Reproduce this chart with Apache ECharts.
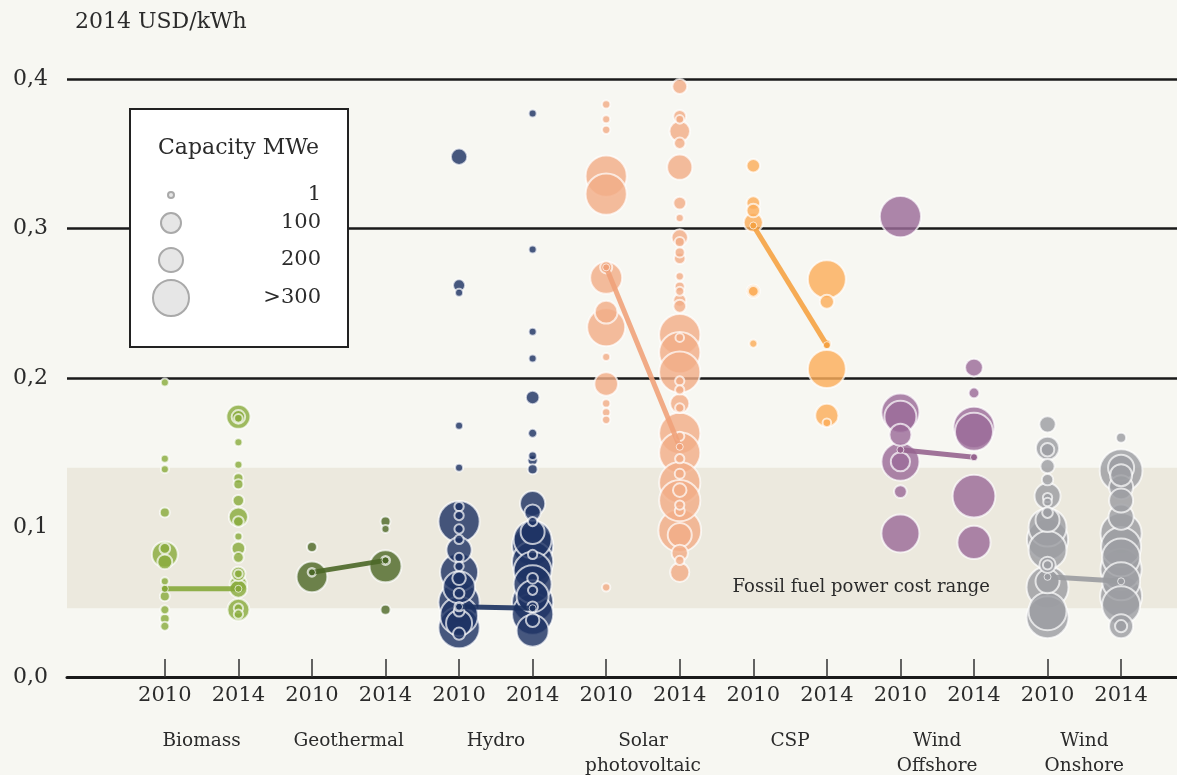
<!DOCTYPE html>
<html>
<head>
<meta charset="utf-8">
<title>LCOE 2010 / 2014</title>
<script src="https://cdn.jsdelivr.net/npm/echarts@6/dist/echarts.min.js"></script>
<style>
  html, body { margin: 0; padding: 0; background: #f7f7f2; }
  #chart { width: 1177px; height: 775px; }
</style>
</head>
<body>
<div id="chart"></div>
<script>
// categories
const techs = ['Biomass', 'Geothermal', 'Hydro', 'Solar\nphotovoltaic', 'CSP', 'Wind\nOffshore', 'Wind\nOnshore'];
const years = ['2010', '2014'];
const yTicks = [0, 0.1, 0.2, 0.3, 0.4];
const legendCaps = [1, 100, 200, 300];
const legendLabels = ['1', '100', '200', '>300'];
const fossilRange = [0.046, 0.14];

// projects: [cost USD/kWh, capacity MWe]
const biomass2010 = [[0.197, 1], [0.146, 1], [0.139, 1], [0.110, 15], [0.086, 20], [0.082, 200], [0.077, 50],
  [0.064, 1], [0.054, 15], [0.045, 8], [0.039, 12], [0.034, 8]];
const biomass2014 = [[0.174, 150], [0.174, 40], [0.173, 5], [0.157, 1], [0.142, 1], [0.133, 15], [0.129, 15],
  [0.118, 25], [0.107, 80], [0.104, 20], [0.094, 1], [0.086, 40], [0.080, 20], [0.069, 45], [0.069, 5],
  [0.062, 70], [0.059, 70], [0.045, 100], [0.046, 10], [0.042, 10]];
const geothermal2010 = [[0.087, 15], [0.067, 240], [0.070, 5]];
const geothermal2014 = [[0.104, 15], [0.099, 1], [0.074, 250], [0.078, 8], [0.045, 15]];
const hydro2010 = [[0.348, 60], [0.262, 30], [0.257, 1], [0.168, 1], [0.140, 1],
  [0.114, 10], [0.108, 10], [0.104, 380], [0.099, 10], [0.092, 10], [0.085, 180], [0.080, 10],
  [0.074, 10], [0.070, 300], [0.066, 40], [0.060, 250], [0.056, 20], [0.050, 380], [0.047, 10],
  [0.044, 20], [0.041, 300], [0.036, 200], [0.033, 380], [0.029, 30]];
const hydro2014 = [[0.377, 1], [0.286, 1], [0.231, 1], [0.213, 1], [0.187, 40], [0.163, 8], [0.148, 5],
  [0.145, 15], [0.139, 15], [0.116, 180], [0.110, 60], [0.104, 10], [0.097, 150], [0.092, 300],
  [0.088, 380], [0.082, 10], [0.077, 380], [0.071, 300], [0.066, 20], [0.062, 300], [0.058, 10],
  [0.054, 250], [0.050, 380], [0.047, 20], [0.042, 380], [0.038, 40], [0.031, 250]];
const solar2010 = [[0.383, 3], [0.373, 1], [0.366, 3], [0.335, 380], [0.323, 380], [0.267, 250], [0.274, 30],
  [0.244, 120], [0.234, 300], [0.214, 1], [0.196, 140], [0.183, 3], [0.177, 3], [0.172, 3], [0.060, 3]];
const solar2014 = [[0.395, 50], [0.375, 35], [0.373, 5], [0.365, 90], [0.357, 25], [0.341, 180], [0.317, 35],
  [0.307, 1], [0.294, 60], [0.291, 15], [0.284, 15], [0.280, 25], [0.268, 3], [0.261, 15], [0.258, 8],
  [0.252, 35], [0.248, 35], [0.229, 380], [0.227, 5], [0.217, 380], [0.204, 380], [0.198, 10],
  [0.192, 10], [0.183, 80], [0.180, 10], [0.163, 380], [0.161, 10], [0.150, 380], [0.146, 10],
  [0.136, 15], [0.130, 380], [0.125, 40], [0.118, 380], [0.115, 10], [0.111, 15], [0.098, 420],
  [0.095, 150], [0.083, 60], [0.078, 10], [0.070, 80]];
const csp2010 = [[0.342, 40], [0.317, 40], [0.312, 40], [0.304, 80], [0.258, 40], [0.258, 20], [0.223, 2]];
const csp2014 = [[0.266, 300], [0.251, 45], [0.223, 2], [0.206, 300], [0.175, 130], [0.170, 5]];
const windOff2010 = [[0.308, 380], [0.177, 300], [0.174, 250], [0.162, 100], [0.144, 300], [0.144, 80],
  [0.124, 35], [0.096, 300]];
const windOff2014 = [[0.207, 70], [0.190, 20], [0.167, 380], [0.164, 300], [0.121, 420], [0.090, 260]];
const windOn2010 = [[0.169, 60], [0.153, 130], [0.152, 40], [0.141, 45], [0.132, 25], [0.121, 200],
  [0.120, 10], [0.117, 5], [0.110, 20], [0.105, 150], [0.100, 300], [0.092, 380], [0.085, 300],
  [0.075, 60], [0.075, 10], [0.064, 150], [0.060, 400], [0.044, 300], [0.040, 400]];
const windOn2014 = [[0.160, 15], [0.140, 200], [0.138, 420], [0.135, 100], [0.127, 150], [0.118, 150],
  [0.107, 180], [0.096, 380], [0.087, 350], [0.080, 300], [0.072, 380], [0.064, 300], [0.054, 400],
  [0.048, 300], [0.034, 150], [0.034, 30]];

// capacity-weighted averages [2010, 2014]
const avgBiomass = [0.059, 0.059];
const avgGeothermal = [0.070, 0.078];
const avgHydro = [0.047, 0.046];
const avgSolar = [0.274, 0.154];
const avgCsp = [0.302, 0.222];
const avgWindOff = [0.152, 0.147];
const avgWindOn = [0.067, 0.064];

const projects = [
  [biomass2010, biomass2014], [geothermal2010, geothermal2014], [hydro2010, hydro2014],
  [solar2010, solar2014], [csp2010, csp2014], [windOff2010, windOff2014], [windOn2010, windOn2014]
];
const averages = [avgBiomass, avgGeothermal, avgHydro, avgSolar, avgCsp, avgWindOff, avgWindOn];

const bubbleColors = ['#8aac3e', '#4f6a2a', '#1e3364', '#f2ad88', '#fbad5a', '#9b6b98', '#9c9da2'];
const lineColors = ['#86a83a', '#4b6727', '#1b315f', '#f0a27a', '#f5a243', '#96648f', '#9a9ba0'];

const serif = '"DejaVu Serif", "Liberation Serif", serif';
const textColor = '#2b2b2b';

// capacity -> bubble diameter (px)
const sizeStops = [[0, 6], [1, 8], [100, 22], [200, 26], [300, 38], [450, 44]];
function bubbleSize(cap) {
  for (let i = 1; i < sizeStops.length; i++) {
    const [c0, s0] = sizeStops[i - 1], [c1, s1] = sizeStops[i];
    if (cap <= c1) return s0 + (s1 - s0) * (cap - c0) / (c1 - c0);
  }
  return sizeStops[sizeStops.length - 1][1];
}

const xPositions = techs.flatMap((t, i) => [2 * i, 2 * i + 1]);
const xMids = techs.map((t, i) => 2 * i + 0.5);
const xMin = -1.33, xMax = 13.76;

const series = [];
// fossil fuel band below the grid lines
series.push({
  type: 'scatter', data: [], z: -1, silent: true,
  markArea: {
    silent: true,
    itemStyle: { color: '#ece9de' },
    label: { show: false },
    data: [[{ yAxis: fossilRange[0] }, { yAxis: fossilRange[1] }]]
  }
});

projects.forEach((pair, t) => {
  const data = [];
  pair.forEach((pts, y) => {
    pts.forEach(p => data.push([2 * t + y, p[0], p[1]]));
  });
  data.sort((a, b) => b[2] - a[2]);
  series.push({
    name: techs[t],
    type: 'scatter',
    data: data,
    symbolSize: v => bubbleSize(v[2]),
    itemStyle: {
      color: bubbleColors[t],
      opacity: 0.82,
      borderColor: 'rgba(255,255,255,0.85)',
      borderWidth: 2
    },
    z: 3
  });
});

averages.forEach((avg, t) => {
  series.push({
    type: 'line',
    data: avg.map((v, y) => [2 * t + y, v]),
    symbol: 'circle',
    symbolSize: 7,
    lineStyle: { color: lineColors[t], width: 5, opacity: 0.9 },
    itemStyle: { color: lineColors[t], borderColor: 'rgba(255,255,255,0.7)', borderWidth: 1 },
    silent: true,
    z: 4
  });
});

const legendY = [195, 223, 260, 298];
const graphic = [
  { type: 'text', left: 75, top: 11, style: { text: '2014 USD/kWh', fill: textColor, font: '22px ' + serif } },
  {
    type: 'text', x: 990, y: 587, z: 100,
    style: { text: 'Fossil fuel power cost range', fill: textColor, font: '18px ' + serif, align: 'right', verticalAlign: 'middle' }
  },
  {
    type: 'rect', z: 100, shape: { x: 130, y: 109, width: 218, height: 238 },
    style: { fill: '#ffffff', stroke: '#222', lineWidth: 2 }
  },
  {
    type: 'text', z: 101, x: 158, y: 148,
    style: { text: 'Capacity MWe', fill: textColor, font: '22px ' + serif, verticalAlign: 'middle' }
  }
];
legendCaps.forEach((c, i) => {
  graphic.push({
    type: 'circle', z: 101, shape: { cx: 171, cy: legendY[i], r: bubbleSize(c) / 2 - 1 },
    style: { fill: '#e6e6e6', stroke: '#a9a9a9', lineWidth: 2 }
  });
  graphic.push({
    type: 'text', z: 101, x: 321, y: legendY[i],
    style: { text: legendLabels[i], fill: textColor, font: '21px ' + serif, align: 'right', verticalAlign: 'middle' }
  });
});

const chart = echarts.init(document.getElementById('chart'));
chart.setOption({
  backgroundColor: '#f7f7f2',
  animation: false,
  grid: { left: 67, right: 0, top: 79, bottom: 98, outerBoundsMode: 'none', containLabel: false },
  xAxis: [
    {
      type: 'value', min: xMin, max: xMax,
      axisLine: { lineStyle: { color: '#1a1a1a', width: 3 } },
      axisTick: { inside: true, length: 18, customValues: xPositions, lineStyle: { color: '#333', width: 1.5 } },
      axisLabel: {
        customValues: xPositions, margin: 8,
        formatter: v => years[Math.round(v) % 2],
        color: textColor, fontFamily: serif, fontSize: 21
      },
      splitLine: { show: false }
    },
    {
      type: 'value', min: xMin, max: xMax, position: 'bottom',
      axisLine: { show: false }, axisTick: { show: false },
      axisLabel: {
        customValues: xMids, margin: 52, verticalAlign: 'top', lineHeight: 25,
        formatter: v => techs[Math.round((v - 0.5) / 2)],
        color: textColor, fontFamily: serif, fontSize: 18.5
      },
      splitLine: { show: false }
    }
  ],
  yAxis: {
    type: 'value', min: yTicks[0], max: yTicks[yTicks.length - 1], interval: 0.1,
    axisLine: { show: false }, axisTick: { show: false },
    axisLabel: {
      margin: 19, color: textColor, fontFamily: serif, fontSize: 22,
      formatter: v => v.toFixed(1).replace('.', ',')
    },
    splitLine: { lineStyle: { color: '#1a1a1a', width: 2.5 } }
  },
  graphic: graphic,
  series: series
});
</script>
</body>
</html>
